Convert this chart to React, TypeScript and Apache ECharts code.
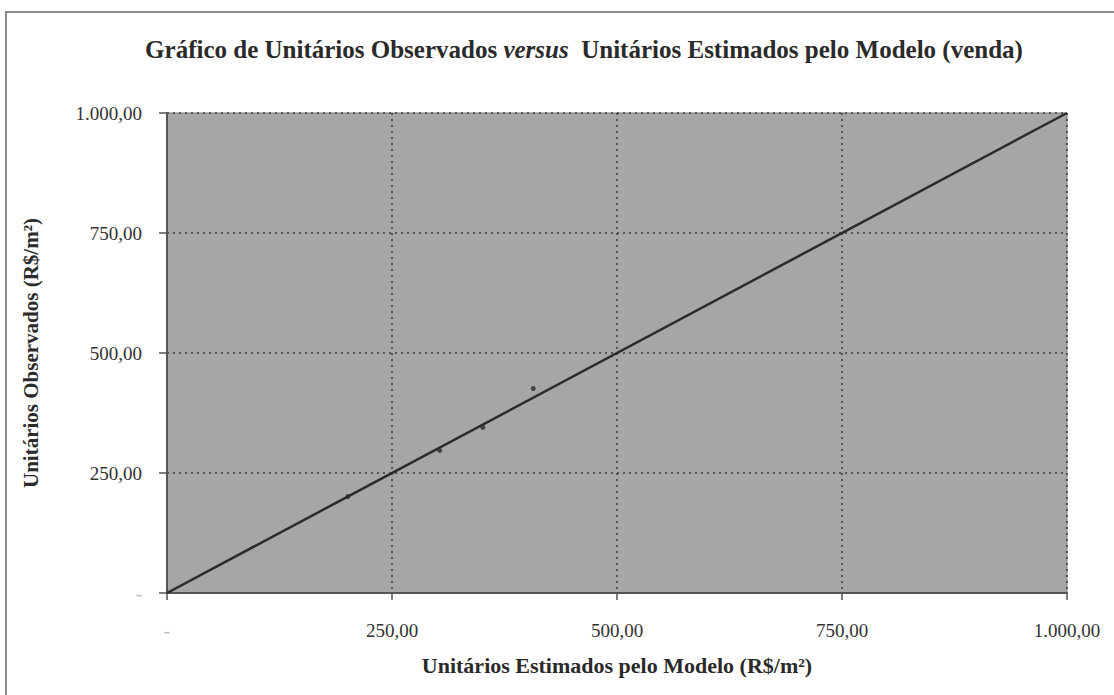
import React, { useEffect, useRef } from "react";
import * as echarts from "echarts";

const titleText = "Gráfico de Unitários Observados {i|versus}  Unitários Estimados pelo Modelo (venda)";
const xAxisName = "Unitários Estimados pelo Modelo (R$/m²)";
const yAxisName = "Unitários Observados (R$/m²)";

// observed points: [estimated, observed]
const estimated = [201, 303, 351, 407];
const observed = [201, 297, 345, 426];

// reference line (estimated = observed)
const lineX = [0, 1000];
const lineY = [0, 1000];

const axisMin = 0;
const axisMax = 1000;
const axisStep = 250;

const fmt = (v: number) => {
  if (v === 0) return "{z|-}";
  const s = v.toFixed(2).replace(".", ",");
  const [ip, dp] = s.split(",");
  const withDots = ip.replace(/\B(?=(\d{3})+(?!\d))/g, ".");
  return withDots + "," + dp;
};

const FONT = "'Liberation Serif', 'Times New Roman', serif";

export default function App() {
  const ref = useRef<HTMLDivElement>(null);
  useEffect(() => {
    document.body.style.margin = "0";
    const chart = echarts.init(ref.current!, undefined, { renderer: "svg" });
    const labelStyle = {
      fontFamily: FONT,
      fontSize: 19,
      color: "#333",
      formatter: fmt,
      rich: { z: { color: "#bbb", fontFamily: FONT, fontSize: 19 } },
    };
    chart.setOption({
      animation: false,
      backgroundColor: "#ffffff",
      title: {
        text: titleText,
        left: 579,
        top: 32,
        textAlign: "center",
        textStyle: {
          fontFamily: FONT,
          fontSize: 25,
          fontWeight: "bold",
          color: "#2a2a2a",
          rich: {
            i: { fontFamily: FONT, fontSize: 25, fontWeight: "bold", fontStyle: "italic", color: "#2a2a2a" },
          },
        },
      },
      graphic: [
        {
          type: "rect",
          shape: { x: 6, y: 12, width: 1300, height: 900 },
          style: { fill: "none", stroke: "#8c8c8c", lineWidth: 2 },
          silent: true,
        },
      ],
      grid: {
        left: 167,
        top: 113,
        right: 47,
        bottom: 102,
        show: true,
        backgroundColor: "#a6a6a6",
        borderColor: "#7a7a7a",
        borderWidth: 1,
      },
      xAxis: {
        type: "value",
        min: axisMin,
        max: axisMax,
        interval: axisStep,
        name: xAxisName,
        nameLocation: "middle",
        nameGap: 61,
        nameTextStyle: { fontFamily: FONT, fontSize: 22, fontWeight: "bold", color: "#2a2a2a" },
        axisLine: { show: true, lineStyle: { color: "#555", width: 2 } },
        axisTick: { show: true, length: 7, lineStyle: { color: "#555", width: 1.5 } },
        axisLabel: { ...labelStyle, margin: 28 },
        splitLine: { show: true, lineStyle: { color: "#3a3a3a", width: 1.5, type: [2, 4] } },
      },
      yAxis: {
        type: "value",
        min: axisMin,
        max: axisMax,
        interval: axisStep,
        name: yAxisName,
        nameLocation: "middle",
        nameGap: 126,
        nameTextStyle: { fontFamily: FONT, fontSize: 21, fontWeight: "bold", color: "#2a2a2a" },
        axisLine: { show: true, lineStyle: { color: "#555", width: 2 } },
        axisTick: { show: true, length: 8, lineStyle: { color: "#555", width: 1.5 } },
        axisLabel: { ...labelStyle, margin: 25 },
        splitLine: { show: true, lineStyle: { color: "#3a3a3a", width: 1.5, type: [2, 4] } },
      },
      series: [
        {
          type: "line",
          data: lineX.map((x, i) => [x, lineY[i]]),
          showSymbol: false,
          symbol: "none",
          lineStyle: { color: "#2b2b2b", width: 2.5 },
          z: 3,
        },
        {
          type: "scatter",
          data: estimated.map((x, i) => [x, observed[i]]),
          symbol: "circle",
          symbolSize: 5,
          itemStyle: { color: "#2b2b2b" },
          z: 4,
        },
      ],
    });
    return () => chart.dispose();
  }, []);
  return <div ref={ref} style={{ position: "fixed", left: 0, top: 0, width: 1114, height: 695 }} />;
}
